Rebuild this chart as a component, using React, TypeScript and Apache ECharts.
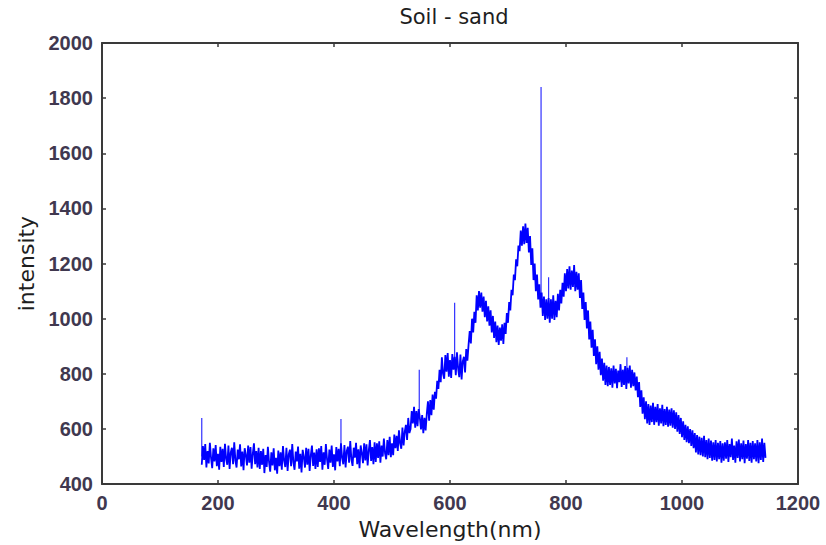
import React, { useEffect, useRef } from "react";
import * as echarts from "echarts";

// Spectrum sampled every 2 nm, split in 100 nm blocks (start wavelength + intensities)
const STEP_NM = 2;
const block172 = [
  470, 538, 488, 545, 460, 520, 475, 550, 495, 458,
  530, 482, 542, 465, 510, 452, 535, 480, 528, 462,
  546, 492, 470, 540, 455, 515, 532, 472, 552, 485,
  460, 525, 490, 544, 464, 518, 450, 530, 505, 468,
  540, 478, 534, 456, 510, 548, 472, 520, 460, 532,
];
const block272 = [
  455, 520, 470, 528, 440, 505, 462, 535, 480, 445,
  515, 468, 530, 450, 495, 438, 522, 465, 515, 452,
  538, 485, 462, 532, 448, 508, 525, 465, 545, 478,
  452, 518, 482, 536, 456, 510, 442, 524, 498, 460,
  532, 470, 528, 448, 504, 540, 466, 514, 455, 526,
];
const block372 = [
  462, 530, 480, 538, 452, 515, 470, 545, 490, 455,
  525, 478, 540, 462, 508, 450, 534, 482, 528, 465,
  548, 495, 472, 542, 460, 520, 536, 478, 556, 490,
  466, 532, 496, 550, 472, 526, 458, 540, 512, 476,
  548, 486, 544, 468, 522, 560, 484, 534, 472, 552,
];
const block472 = [
  480, 548, 495, 555, 478, 540, 500, 565, 512, 490,
  560, 505, 572, 498, 548, 505, 580, 530, 575, 520,
  595, 548, 528, 605, 540, 590, 615, 560, 640, 585,
  600, 665, 620, 680, 605, 665, 610, 672, 640, 598,
  650, 585, 640, 595, 655, 700, 630, 705, 650, 725,
];
const block572 = [
  670, 735, 710, 775, 745, 815, 770, 860, 800, 782,
  868, 808, 875, 790, 850, 785, 872, 815, 862, 795,
  878, 820, 788, 870, 780, 845, 862, 805, 890, 848,
  905, 955, 910, 1000, 950, 1025, 985, 1085, 1030, 1100,
  1040, 1095, 1025, 1080, 1005, 1065, 990, 1045, 975, 1030,
];
const block672 = [
  950, 1010, 930, 990, 915, 975, 905, 968, 920, 980,
  908, 985, 945, 1020, 985, 1060, 1030, 1105, 1085, 1160,
  1140, 1215, 1190, 1265, 1245, 1320, 1265, 1335, 1270, 1345,
  1275, 1330, 1240, 1300, 1195, 1255, 1140, 1200, 1100, 1160,
  1070, 1125, 1040, 1095, 1010, 1080, 995, 1070, 1000, 1075,
];
const block772 = [
  985, 1070, 1000, 1085, 995, 1065, 1005, 1090, 1030, 1105,
  1055, 1130, 1080, 1165, 1100, 1180, 1110, 1190, 1105, 1175,
  1115, 1195, 1100, 1170, 1105, 1165, 1075, 1140, 1035, 1095,
  995, 1060, 965, 1030, 925, 990, 895, 960, 865, 925,
  835, 900, 815, 880, 795, 855, 775, 840, 760, 830,
];
const block872 = [
  755, 825, 760, 820, 750, 830, 765, 818, 748, 812,
  770, 835, 752, 815, 760, 828, 745, 822, 765, 830,
  750, 815, 755, 805, 740, 790, 715, 770, 680, 740,
  655, 715, 635, 700, 620, 690, 615, 685, 625, 695,
  615, 680, 625, 690, 612, 675, 620, 688, 610, 672,
];
const block972 = [
  615, 680, 608, 670, 612, 675, 605, 668, 600, 660,
  590, 650, 582, 640, 570, 628, 560, 615, 552, 610,
  548, 600, 538, 595, 530, 585, 515, 578, 508, 572,
  505, 568, 500, 575, 498, 560, 490, 565, 495, 558,
  485, 552, 488, 560, 482, 550, 490, 556, 478, 548,
];
const block1072 = [
  485, 552, 492, 560, 480, 545, 498, 565, 488, 540,
  478, 555, 495, 562, 482, 548, 490, 558, 476, 545,
  492, 560, 484, 550, 478, 556, 490, 548, 482, 560,
  476, 552, 488, 565, 480, 550, 495,
];
const blockStarts = [172, 272, 372, 472, 572, 672, 772, 872, 972, 1072];
const blockValues = [
  block172, block272, block372, block472, block572,
  block672, block772, block872, block972, block1072,
];

// Narrow emission spikes
const spikeWavelengths = [172, 412, 547, 608, 757, 770, 905];
const spikeBases = [500, 500, 640, 820, 1060, 1040, 790];
const spikeTops = [640, 636, 815, 1058, 1840, 1150, 860];

const xTicks = { min: 0, max: 1200, interval: 200 };
const yTicks = { min: 400, max: 2000, interval: 200 };

const AXIS_COLOR = "#3a3a3a";
const LABEL_COLOR = "#40384f";

export default function App() {
  const ref = useRef<HTMLDivElement>(null);

  useEffect(() => {
    if (!ref.current) return;
    const chart = echarts.init(ref.current, undefined, { renderer: "svg" });

    const spectrum: [number, number][] = [];
    blockStarts.forEach((start, b) => {
      blockValues[b].forEach((v, i) => spectrum.push([start + i * STEP_NM, v]));
    });

    const spikes: any[] = [];
    spikeWavelengths.forEach((w, i) => {
      spikes.push([w, spikeBases[i]]);
      spikes.push([w, spikeTops[i]]);
      spikes.push([w, "-"]);
    });

    const labelStyle = {
      fontFamily: "'Liberation Sans', Arial, sans-serif",
      fontWeight: "bold" as const,
      fontSize: 20,
      color: LABEL_COLOR,
      formatter: (v: number) => String(v),
    };
    const nameStyle = {
      fontFamily: "'DejaVu Sans', Verdana, sans-serif",
      fontSize: 22,
      color: "#1e1e1e",
    };
    const lineStyle = { color: AXIS_COLOR, width: 2 };
    const tickStyle = { color: AXIS_COLOR, width: 1.5 };

    chart.setOption({
      animation: false,
      backgroundColor: "#ffffff",
      title: {
        text: "Soil - sand",
        left: 454,
        top: 6,
        textAlign: "center",
        padding: 0,
        textStyle: {
          fontFamily: "'DejaVu Sans', Verdana, sans-serif",
          fontSize: 21,
          fontWeight: "normal",
          color: "#1e1e1e",
        },
      },
      grid: { left: 102, right: 28, top: 43, bottom: 60, containLabel: false },
      xAxis: [
        {
          type: "value",
          position: "bottom",
          ...xTicks,
          name: "Wavelength(nm)",
          nameLocation: "middle",
          nameGap: 29,
          nameTextStyle: nameStyle,
          axisLine: { show: true, onZero: false, lineStyle },
          axisTick: { show: true, inside: true, length: 4, lineStyle: tickStyle },
          axisLabel: { ...labelStyle, margin: 9 },
          splitLine: { show: false },
        },
        {
          type: "value",
          position: "top",
          ...xTicks,
          axisLine: { show: true, onZero: false, lineStyle },
          axisTick: { show: true, inside: true, length: 4, lineStyle: tickStyle },
          axisLabel: { show: false },
          splitLine: { show: false },
        },
      ],
      yAxis: [
        {
          type: "value",
          position: "left",
          ...yTicks,
          name: "intensity",
          nameLocation: "middle",
          nameGap: 62,
          nameTextStyle: nameStyle,
          axisLine: { show: true, onZero: false, lineStyle },
          axisTick: { show: true, inside: true, length: 4, lineStyle: tickStyle },
          axisLabel: { ...labelStyle, margin: 9 },
          splitLine: { show: false },
        },
        {
          type: "value",
          position: "right",
          ...yTicks,
          axisLine: { show: true, onZero: false, lineStyle },
          axisTick: { show: true, inside: true, length: 4, lineStyle: tickStyle },
          axisLabel: { show: false },
          splitLine: { show: false },
        },
      ],
      series: [
        {
          name: "spectrum",
          type: "line",
          data: spectrum,
          showSymbol: false,
          symbol: "none",
          lineStyle: { color: "#0000ff", width: 1.8 },
          z: 3,
        },
        {
          name: "spikes",
          type: "line",
          data: spikes,
          showSymbol: false,
          symbol: "none",
          connectNulls: false,
          lineStyle: { color: "#3030ff", width: 1.2 },
          z: 2,
        },
      ],
    });

    return () => chart.dispose();
  }, []);

  return (
    <div
      ref={ref}
      style={{ position: "fixed", left: 0, top: 0, width: 826, height: 545 }}
    />
  );
}
